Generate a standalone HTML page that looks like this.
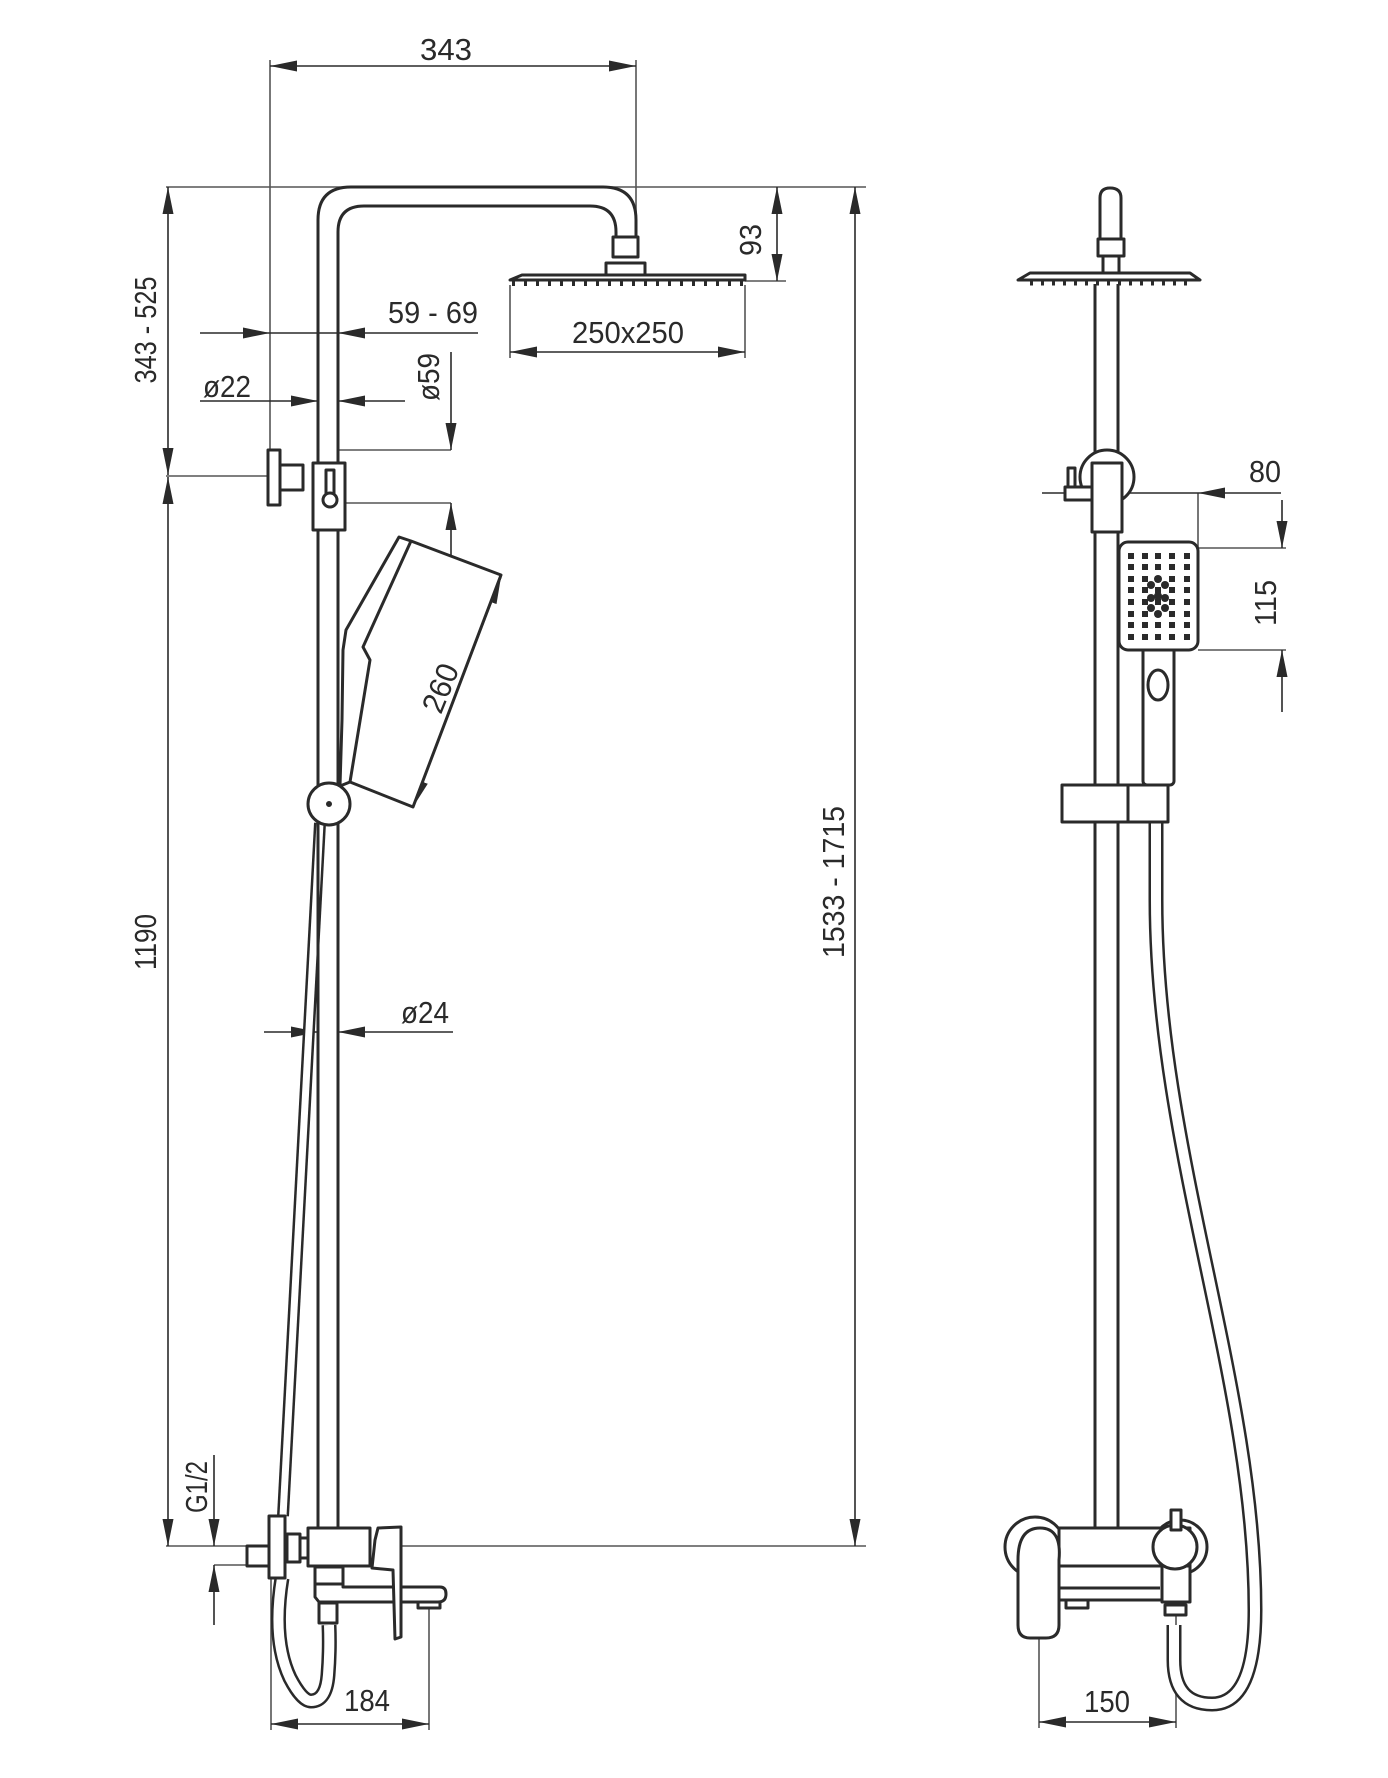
<!DOCTYPE html>
<html><head><meta charset="utf-8"><style>
html,body{margin:0;padding:0;background:#fff}
svg{display:block}
text{font-family:"Liberation Sans",sans-serif;fill:#2a2a2a;font-size:31px}
</style></head><body>
<svg width="1388" height="1778" viewBox="0 0 1388 1778" xmlns="http://www.w3.org/2000/svg">
<defs>
<marker id="a" markerUnits="userSpaceOnUse" markerWidth="27" markerHeight="11" refX="27" refY="5.5" orient="auto-start-reverse"><path d="M0,0 L27,5.5 L0,11z" fill="#2a2a2a"/></marker>
<g id="row">
<rect x="1128" y="-3" width="6" height="6"/><rect x="1142" y="-3" width="6" height="6"/><rect x="1155" y="-3" width="6" height="6"/><rect x="1169" y="-3" width="6" height="6"/><rect x="1184" y="-3" width="6" height="6"/>
</g>
<path id="hl1" d="M320,823 Q304,1100 283,1516"/>
<path id="hl2" d="M282,1578 Q272,1640 290,1678 Q302,1701 311,1701 Q326,1701 328,1675 Q330,1650 329,1625"/>
<path id="hr" d="M1156,822 L1156,900 C1156,1150 1255,1380 1255,1610 Q1255,1704 1212,1704 Q1174,1704 1174,1660 L1174,1625"/>
</defs>
<g stroke="#555" stroke-width="1.6" fill="none">
<line x1="270" y1="60" x2="270" y2="505"/>
<line x1="636" y1="60" x2="636" y2="237"/>
<line x1="166" y1="187" x2="866" y2="187"/>
<line x1="745" y1="281" x2="786" y2="281"/>
<line x1="510" y1="285" x2="510" y2="358"/>
<line x1="745" y1="285" x2="745" y2="358"/>
<line x1="338" y1="450" x2="451" y2="450"/>
<line x1="338" y1="503" x2="451" y2="503"/>
<line x1="166" y1="476" x2="268" y2="476"/>
<line x1="166" y1="1546" x2="247" y2="1546"/>
<line x1="402" y1="1546" x2="866" y2="1546"/>
<line x1="214" y1="1565" x2="247" y2="1565"/>
<line x1="271" y1="1578" x2="271" y2="1730"/>
<line x1="429" y1="1608" x2="429" y2="1730"/>
<line x1="1198" y1="493" x2="1198" y2="548"/>
<line x1="1198" y1="548" x2="1286" y2="548"/>
<line x1="1198" y1="650" x2="1286" y2="650"/>
<line x1="1039" y1="1553" x2="1039" y2="1728"/>
<line x1="1176" y1="1548" x2="1176" y2="1728"/>
</g>
<g stroke="#2a2a2a" stroke-width="1.6" fill="none">
<line x1="270" y1="66" x2="636" y2="66" marker-start="url(#a)" marker-end="url(#a)"/>
<line x1="168" y1="187" x2="168" y2="475" marker-start="url(#a)" marker-end="url(#a)"/>
<line x1="168" y1="477" x2="168" y2="1546" marker-start="url(#a)" marker-end="url(#a)"/>
<line x1="855" y1="187" x2="855" y2="1546" marker-start="url(#a)" marker-end="url(#a)"/>
<line x1="777" y1="187" x2="777" y2="281" marker-start="url(#a)" marker-end="url(#a)"/>
<line x1="510" y1="352" x2="745" y2="352" marker-start="url(#a)" marker-end="url(#a)"/>
<line x1="200" y1="333" x2="270" y2="333" marker-end="url(#a)"/>
<line x1="478" y1="333" x2="338" y2="333" marker-end="url(#a)"/>
<line x1="270" y1="333" x2="338" y2="333"/>
<line x1="200" y1="401" x2="318" y2="401" marker-end="url(#a)"/>
<line x1="405" y1="401" x2="338" y2="401" marker-end="url(#a)"/>
<line x1="451" y1="352" x2="451" y2="450" marker-end="url(#a)"/>
<line x1="451" y1="555" x2="451" y2="503" marker-end="url(#a)"/>
<line x1="264" y1="1032" x2="318" y2="1032" marker-end="url(#a)"/>
<line x1="453" y1="1032" x2="338" y2="1032" marker-end="url(#a)"/>
<line x1="214" y1="1455" x2="214" y2="1546" marker-end="url(#a)"/>
<line x1="214" y1="1625" x2="214" y2="1565" marker-end="url(#a)"/>
<line x1="271" y1="1724" x2="429" y2="1724" marker-start="url(#a)" marker-end="url(#a)"/>
<line x1="501" y1="577" x2="413" y2="807" marker-start="url(#a)" marker-end="url(#a)"/>
<line x1="1042" y1="493" x2="1117" y2="493" marker-end="url(#a)"/>
<line x1="1281" y1="493" x2="1198" y2="493" marker-end="url(#a)"/>
<line x1="1117" y1="493" x2="1198" y2="493"/>
<line x1="1282" y1="500" x2="1282" y2="548" marker-end="url(#a)"/>
<line x1="1282" y1="712" x2="1282" y2="650" marker-end="url(#a)"/>
<line x1="1039" y1="1722" x2="1176" y2="1722" marker-start="url(#a)" marker-end="url(#a)"/>
</g>
<!-- hoses as double lines -->
<g fill="none">
<use href="#hl1" stroke="#2a2a2a" stroke-width="12"/><use href="#hl1" stroke="#fff" stroke-width="7"/>
<use href="#hl2" stroke="#2a2a2a" stroke-width="15"/><use href="#hl2" stroke="#fff" stroke-width="10"/>
<use href="#hr" stroke="#2a2a2a" stroke-width="15"/><use href="#hr" stroke="#fff" stroke-width="10"/>
</g>
<g stroke="#2a2a2a" stroke-width="3" fill="#fff" stroke-linejoin="round">
<path d="M318,463 L318,220 Q318,187 351,187 L603,187 Q636,187 636,220 L636,237" fill="none"/>
<path d="M338,463 L338,232 Q338,206 364,206 L590,206 Q616,206 616,232 L616,237" fill="none"/>
<line x1="318" y1="530" x2="318" y2="1528"/>
<line x1="338" y1="530" x2="338" y2="1528"/>
<rect x="613" y="237" width="25" height="20"/>
<rect x="606" y="263" width="39" height="12"/>
<path d="M510,280 L522,275 L745,275 L745,280 Z"/>
<path d="M512,283 L745,283" stroke-dasharray="3,9" stroke-width="6"/>
<rect x="268" y="450" width="12" height="55"/>
<rect x="280" y="465" width="23" height="25"/>
<rect x="313" y="463" width="32" height="67"/>
<rect x="326" y="470" width="8" height="28"/>
<circle cx="330" cy="500" r="7"/>
<path d="M399,537 L411,541 L501,575 L413,807 L350,782 L340,786 L342,720 L343,650 L346,630 Z"/>
<path d="M411,541 L363,647 L370,660 L350,782" fill="none"/>
<circle cx="329" cy="804" r="21"/>
<circle cx="329" cy="804" r="1.5" fill="#2a2a2a"/>
<rect x="247" y="1546" width="22" height="20"/>
<rect x="269" y="1516" width="16" height="62"/>
<rect x="287" y="1534" width="13" height="28"/>
<rect x="300" y="1538" width="8" height="20"/>
<path d="M315,1567 L343,1567 L343,1587 L440,1587 Q446,1587 446,1594 Q446,1602 438,1602 L319,1602 L315,1597 Z"/>
<rect x="315" y="1567" width="28" height="17"/>
<rect x="308" y="1528" width="62" height="38"/>
<path d="M378,1528 L401,1527 L401,1637 L395,1639 L393,1570 L372,1568 L375,1540 Z"/>
<rect x="418" y="1602" width="22" height="6"/>
<rect x="319" y="1603" width="18" height="20"/>
<path d="M1100,239 L1100,198 Q1100,188 1110,188 Q1121,188 1121,198 L1121,239"/>
<rect x="1098" y="239" width="26" height="17"/>
<rect x="1103" y="256" width="16" height="17"/>
<path d="M1018,280 L1030,273 L1190,273 L1200,280 Z"/>
<path d="M1030,283 L1195,283" stroke-dasharray="3,8" stroke-width="5"/>
<line x1="1095" y1="284" x2="1095" y2="1528"/>
<line x1="1118" y1="284" x2="1118" y2="1528"/>
<circle cx="1107" cy="477" r="27"/>
<rect x="1092" y="463" width="30" height="69"/>
<rect x="1065" y="487" width="27" height="13"/>
<rect x="1068" y="468" width="7" height="19"/>
<rect x="1143" y="645" width="31" height="140" rx="4"/>
<ellipse cx="1158" cy="685" rx="10" ry="15"/>
<rect x="1119" y="542" width="79" height="108" rx="9"/>
<rect x="1062" y="785" width="106" height="37"/>
<line x1="1128" y1="785" x2="1128" y2="822"/>
<circle cx="1035" cy="1547" r="30"/>
<circle cx="1180" cy="1547" r="27"/>
<rect x="1059" y="1528" width="131" height="72"/>
<line x1="1059" y1="1566" x2="1190" y2="1566"/>
<line x1="1059" y1="1588" x2="1160" y2="1588"/>
<rect x="1162" y="1566" width="28" height="36"/>
<circle cx="1175" cy="1547" r="22"/>
<rect x="1171" y="1510" width="10" height="20"/>
<path d="M1018,1560 Q1018,1528 1040,1528 Q1062,1528 1059,1560 L1059,1625 Q1059,1638 1046,1638 L1030,1638 Q1018,1638 1018,1625 Z"/>
<rect x="1066" y="1600" width="22" height="8"/>
<rect x="1165" y="1605" width="21" height="10"/>
</g>
<g fill="#2a2a2a">
<use href="#row" y="556"/><use href="#row" y="567"/><use href="#row" y="579"/><use href="#row" y="590"/><use href="#row" y="602"/><use href="#row" y="614"/><use href="#row" y="625"/><use href="#row" y="637"/>
<circle cx="1158" cy="579" r="4"/><circle cx="1151" cy="585" r="4"/><circle cx="1165" cy="585" r="4"/><circle cx="1158" cy="596" r="4"/><circle cx="1151" cy="608" r="4"/><circle cx="1165" cy="608" r="4"/><circle cx="1158" cy="614" r="4"/><circle cx="1151" cy="598" r="4"/><circle cx="1165" cy="598" r="4"/>
</g>
<g>
<text x="446" y="60" text-anchor="middle" textLength="52" lengthAdjust="spacingAndGlyphs">343</text>
<text x="628" y="343" text-anchor="middle" textLength="112" lengthAdjust="spacingAndGlyphs">250x250</text>
<text x="433" y="323" text-anchor="middle" textLength="90" lengthAdjust="spacingAndGlyphs">59 - 69</text>
<text x="227" y="397" text-anchor="middle" textLength="48" lengthAdjust="spacingAndGlyphs">ø22</text>
<text x="425" y="1023" text-anchor="middle" textLength="48" lengthAdjust="spacingAndGlyphs">ø24</text>
<text x="367" y="1711" text-anchor="middle" textLength="46" lengthAdjust="spacingAndGlyphs">184</text>
<text x="1107" y="1712" text-anchor="middle" textLength="46" lengthAdjust="spacingAndGlyphs">150</text>
<text x="1265" y="482" text-anchor="middle" textLength="32" lengthAdjust="spacingAndGlyphs">80</text>
<text transform="translate(750,240) rotate(-90)" x="0" y="11" text-anchor="middle" textLength="32" lengthAdjust="spacingAndGlyphs">93</text>
<text transform="translate(428,377) rotate(-90)" x="0" y="11" text-anchor="middle" textLength="48" lengthAdjust="spacingAndGlyphs">ø59</text>
<text transform="translate(145,330) rotate(-90)" x="0" y="11" text-anchor="middle" textLength="107" lengthAdjust="spacingAndGlyphs">343 - 525</text>
<text transform="translate(145,942) rotate(-90)" x="0" y="11" text-anchor="middle" textLength="56" lengthAdjust="spacingAndGlyphs">1190</text>
<text transform="translate(833,882) rotate(-90)" x="0" y="11" text-anchor="middle" textLength="152" lengthAdjust="spacingAndGlyphs">1533 - 1715</text>
<text transform="translate(196,1487) rotate(-90)" x="0" y="11" text-anchor="middle" textLength="52" lengthAdjust="spacingAndGlyphs">G1/2</text>
<text transform="translate(1265,603) rotate(-90)" x="0" y="11" text-anchor="middle" textLength="46" lengthAdjust="spacingAndGlyphs">115</text>
<text transform="translate(440,688) rotate(-68)" x="0" y="11" text-anchor="middle" textLength="50" lengthAdjust="spacingAndGlyphs">260</text>
</g>
</svg>
</body></html>
